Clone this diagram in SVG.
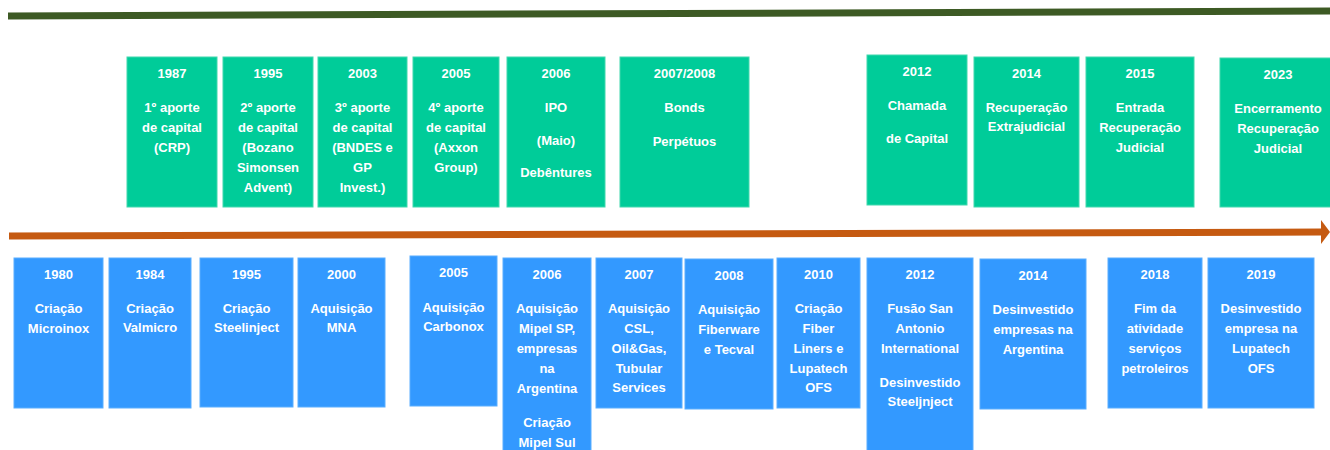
<svg xmlns="http://www.w3.org/2000/svg" width="1330" height="450" viewBox="0 0 1330 450">
<style>
.bg{fill:#ffffff}
.g{fill:#00cc99;stroke:#40d8ad;stroke-width:1}
.b{fill:#3399ff;stroke:#5aaeff;stroke-width:1}
text{font-family:"Liberation Sans",Arial,sans-serif;font-weight:bold;font-size:13px;fill:#ffffff;text-anchor:middle}
.bar{stroke:#3d5a24;stroke-width:7;fill:none}
.arr{stroke:#c55a11;stroke-width:7;fill:none}
</style>
<defs>
<marker id="ah" markerUnits="userSpaceOnUse" markerWidth="10" markerHeight="24" refX="0" refY="12" orient="auto">
<path d="M0,0 L9,12 L0,24 Z" fill="#c55a11"/>
</marker>
</defs>
<rect class="bg" x="0" y="0" width="1330" height="450"/>
<g id="connectors">
<line class="bar" x1="8" y1="16" x2="1330" y2="11"/>
<line class="arr" x1="9" y1="236" x2="1321" y2="232" marker-end="url(#ah)"/>
</g>
<g id="top-1987"><rect class="g" x="127" y="57" width="90" height="150"/>
<text x="172" y="77.5">1987</text><text x="172" y="111.5">1º aporte</text><text x="172" y="131.5">de capital</text><text x="172" y="151.5">(CRP)</text></g>
<g id="top-1995"><rect class="g" x="223" y="57" width="90" height="150"/>
<text x="268" y="77.5">1995</text><text x="268" y="111.5">2º aporte</text><text x="268" y="131.5">de capital</text><text x="268" y="151.5">(Bozano</text><text x="268" y="171.5">Simonsen</text><text x="268" y="191.5">Advent)</text></g>
<g id="top-2003"><rect class="g" x="318" y="57" width="89" height="150"/>
<text x="362.5" y="77.5">2003</text><text x="362.5" y="111.5">3º aporte</text><text x="362.5" y="131.5">de capital</text><text x="362.5" y="151.5">(BNDES e</text><text x="362.5" y="171.5">GP</text><text x="362.5" y="191.5">Invest.)</text></g>
<g id="top-2005"><rect class="g" x="413" y="57" width="86" height="150"/>
<text x="456" y="77.5">2005</text><text x="456" y="111.5">4º aporte</text><text x="456" y="131.5">de capital</text><text x="456" y="151.5">(Axxon</text><text x="456" y="171.5">Group)</text></g>
<g id="top-2006"><rect class="g" x="507" y="57" width="98" height="150"/>
<text x="556" y="77.5">2006</text><text x="556" y="111.5">IPO</text><text x="556" y="144.5">(Maio)</text><text x="556" y="177">Debêntures</text></g>
<g id="top-2007"><rect class="g" x="620" y="57" width="129" height="150"/>
<text x="684.5" y="77.5">2007/2008</text><text x="684.5" y="111.5">Bonds</text><text x="684.5" y="145.5">Perpétuos</text></g>
<g id="top-2012"><rect class="g" x="867" y="55" width="100" height="150"/>
<text x="917" y="75.5">2012</text><text x="917" y="109.5">Chamada</text><text x="917" y="142.5">de Capital</text></g>
<g id="top-2014"><rect class="g" x="974" y="57" width="105" height="150"/>
<text x="1026.5" y="77.5">2014</text><text x="1026.5" y="111.5">Recuperação</text><text x="1026.5" y="130.5">Extrajudicial</text></g>
<g id="top-2015"><rect class="g" x="1086" y="57" width="108" height="150"/>
<text x="1140" y="77.5">2015</text><text x="1140" y="111.5">Entrada</text><text x="1140" y="132">Recuperação</text><text x="1140" y="151.5">Judicial</text></g>
<g id="top-2023"><rect class="g" x="1220" y="58" width="116" height="149"/>
<text x="1278" y="78.5">2023</text><text x="1278" y="112.5">Encerramento</text><text x="1278" y="133">Recuperação</text><text x="1278" y="152.5">Judicial</text></g>
<g id="bot-1980"><rect class="b" x="14" y="258" width="89" height="150"/>
<text x="58.5" y="278.5">1980</text><text x="58.5" y="312.5">Criação</text><text x="58.5" y="332.5">Microinox</text></g>
<g id="bot-1984"><rect class="b" x="109" y="258" width="82" height="150"/>
<text x="150" y="278.5">1984</text><text x="150" y="312.5">Criação</text><text x="150" y="331.5">Valmicro</text></g>
<g id="bot-1995"><rect class="b" x="200" y="258" width="93" height="149"/>
<text x="246.5" y="278.5">1995</text><text x="246.5" y="312.5">Criação</text><text x="246.5" y="331.5">Steelinject</text></g>
<g id="bot-2000"><rect class="b" x="298" y="258" width="87" height="149"/>
<text x="341.5" y="278.5">2000</text><text x="341.5" y="312.5">Aquisição</text><text x="341.5" y="331.5">MNA</text></g>
<g id="bot-2005"><rect class="b" x="410" y="256" width="87" height="150"/>
<text x="453.5" y="276.5">2005</text><text x="453.5" y="311.5">Aquisição</text><text x="453.5" y="330.5">Carbonox</text></g>
<g id="bot-2006"><rect class="b" x="503" y="258" width="88" height="200"/>
<text x="547" y="278.5">2006</text><text x="547" y="312.5">Aquisição</text><text x="547" y="332.5">Mipel SP,</text><text x="547" y="352.5">empresas</text><text x="547" y="373">na</text><text x="547" y="392.5">Argentina</text><text x="547" y="427">Criação</text><text x="547" y="446.5">Mipel Sul</text></g>
<g id="bot-2007"><rect class="b" x="596" y="258" width="86" height="150"/>
<text x="639" y="278.5">2007</text><text x="639" y="312.5">Aquisição</text><text x="639" y="332.5">CSL,</text><text x="639" y="352.5">Oil&amp;Gas,</text><text x="639" y="372.5">Tubular</text><text x="639" y="392">Services</text></g>
<g id="bot-2008"><rect class="b" x="685" y="259" width="88" height="150"/>
<text x="729" y="279.5">2008</text><text x="729" y="313.5">Aquisição</text><text x="729" y="334">Fiberware</text><text x="729" y="353.5">e Tecval</text></g>
<g id="bot-2010"><rect class="b" x="777" y="258" width="83" height="150"/>
<text x="818.5" y="278.5">2010</text><text x="818.5" y="312.5">Criação</text><text x="818.5" y="332.5">Fiber</text><text x="818.5" y="352.5">Liners e</text><text x="818.5" y="372.5">Lupatech</text><text x="818.5" y="392">OFS</text></g>
<g id="bot-2012"><rect class="b" x="867" y="258" width="106" height="200"/>
<text x="920" y="278.5">2012</text><text x="920" y="312.5">Fusão San</text><text x="920" y="332.5">Antonio</text><text x="920" y="352.5">International</text><text x="920" y="386.5">Desinvestido</text><text x="920" y="406">Steeljnject</text></g>
<g id="bot-2014"><rect class="b" x="980" y="259" width="106" height="150"/>
<text x="1033" y="279.5">2014</text><text x="1033" y="313.5">Desinvestido</text><text x="1033" y="334">empresas na</text><text x="1033" y="353.5">Argentina</text></g>
<g id="bot-2018"><rect class="b" x="1108" y="258" width="94" height="150"/>
<text x="1155" y="278.5">2018</text><text x="1155" y="312.5">Fim da</text><text x="1155" y="332.5">atividade</text><text x="1155" y="352.5">serviços</text><text x="1155" y="373">petroleiros</text></g>
<g id="bot-2019"><rect class="b" x="1208" y="258" width="106" height="150"/>
<text x="1261" y="278.5">2019</text><text x="1261" y="312.5">Desinvestido</text><text x="1261" y="332.5">empresa na</text><text x="1261" y="352.5">Lupatech</text><text x="1261" y="373">OFS</text></g>
</svg>
